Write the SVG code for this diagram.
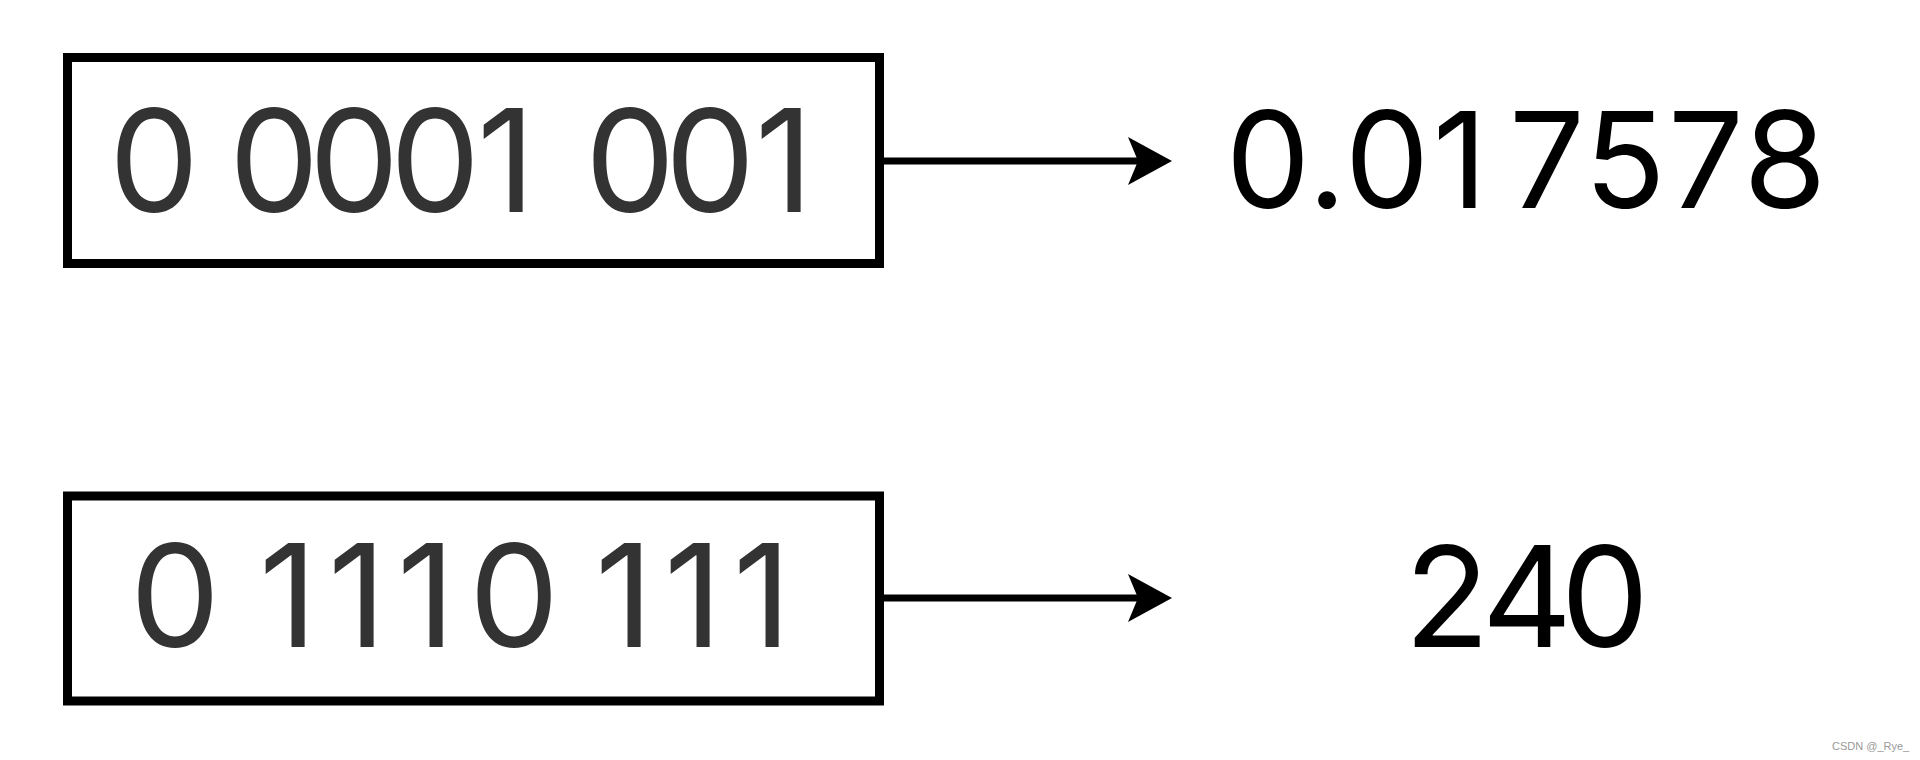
<svg xmlns="http://www.w3.org/2000/svg" width="1920" height="760" viewBox="0 0 1920 760">
  <style>
    .box { fill: #ffffff; stroke: #000000; stroke-width: 9; }
    .bits { font-family: Inter, "Liberation Sans", Arial, sans-serif; font-size: 143px; fill: #333333; text-anchor: middle; }
    .val { font-family: Inter, "Liberation Sans", Arial, sans-serif; fill: #000000; text-anchor: middle; }
    .conn { stroke: #000000; stroke-width: 7; fill: none; }
    .wm { font-family: "Liberation Sans", Arial, sans-serif; font-size: 11px; fill: #999999; }
  </style>
  <defs>
    <marker id="arrow" markerUnits="userSpaceOnUse" viewBox="0 0 44 48" refX="22" refY="24" markerWidth="44" markerHeight="48" orient="auto">
      <path d="M0,0 L44,24 L0,48 L10,24 Z" fill="#000000"/>
    </marker>
  </defs>
  <rect width="1920" height="760" fill="#ffffff"/>

  <g id="node-bits1">
    <rect class="box" x="67.5" y="57.5" width="812" height="206"/>
    <text class="bits" x="154 214 274 354 435 506 568 630 710 784" y="211.5">0 0001 001</text>
  </g>
  <g id="node-bits2">
    <rect class="box" x="67.5" y="496" width="812" height="205"/>
    <text class="bits" x="175 231 288 357 426 514 569 624 693 762" y="646.5">0 1110 111</text>
  </g>
  <g id="node-val1">
    <text class="val" font-size="134" x="1268 1327 1387 1460 1547 1625 1706 1785" y="208">0.017578</text>
  </g>
  <g id="node-val2">
    <text class="val" font-size="140" x="1447 1527 1605" y="647">240</text>
  </g>

  <g id="connectors">
    <line class="conn" x1="884" y1="161" x2="1150" y2="161" marker-end="url(#arrow)"/>
    <line class="conn" x1="884" y1="598" x2="1150" y2="598" marker-end="url(#arrow)"/>
  </g>

  <text class="wm" x="1832" y="750">CSDN @_Rye_</text>
</svg>
